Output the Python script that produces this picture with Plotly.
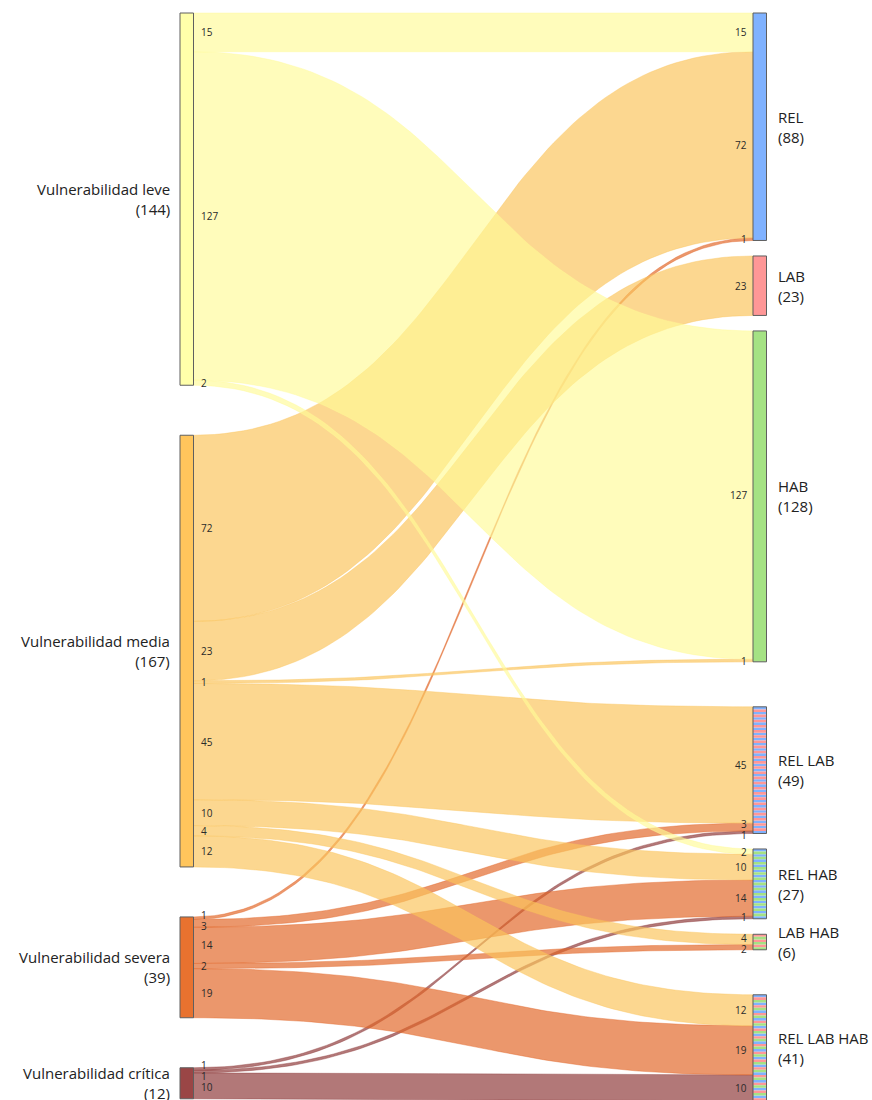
import numpy as np
import plotly.graph_objects as go

# Nodes
sources = ["Vulnerabilidad leve", "Vulnerabilidad media", "Vulnerabilidad severa", "Vulnerabilidad crítica"]
targets = ["REL", "LAB", "HAB", "REL LAB", "REL HAB", "LAB HAB", "REL LAB HAB"]

# Flows: one list per source, in target order
leve = [15, 0, 127, 0, 2, 0, 0]
media = [72, 23, 1, 45, 10, 4, 12]
severa = [1, 0, 0, 3, 14, 2, 19]
critica = [0, 0, 0, 1, 1, 0, 10]
flows = [leve, media, severa, critica]

# Colours
source_colors = ["#FFFFAA", "#FFC55C", "#E8722F", "#9A4646"]
link_colors = ["rgba(255,250,150,0.65)", "rgba(251,196,91,0.68)",
               "rgba(225,102,39,0.68)", "rgba(142,56,56,0.68)"]
base_colors = {"REL": "#80B2FF", "LAB": "#FF9797", "HAB": "#A5E284"}

# Layout constants (pixels)
W, H = 872, 1100
K = 2.585          # px per person
TOP = 13
NODE_W = 13.5
LX, RX = 180, 753
LEFT_GAP = 50
SMALL_GAP, BIG_GAP = 15.5, 45

src_tot = [sum(f) for f in flows]
tgt_tot = [sum(f[j] for f in flows) for j in range(len(targets))]

# node vertical positions
src_y = []
y = TOP
for v in src_tot:
    src_y.append(y)
    y += v * K + LEFT_GAP

tgt_y = []
y = TOP
for j, v in enumerate(tgt_tot):
    if j > 0:
        same = len(targets[j].split()) == len(targets[j - 1].split())
        y += SMALL_GAP if same else BIG_GAP
    tgt_y.append(y)
    y += v * K

fig = go.Figure()

# ribbons
t = np.linspace(0, 1, 80)
x0, x1 = LX + NODE_W, RX
xm = (x0 + x1) / 2
bx = (1 - t) ** 3 * x0 + 3 * (1 - t) ** 2 * t * xm + 3 * (1 - t) * t ** 2 * xm + t ** 3 * x1


def by(ya, yb):
    return (1 - t) ** 3 * ya + 3 * (1 - t) ** 2 * t * ya + 3 * (1 - t) * t ** 2 * yb + t ** 3 * yb


left_labels = [[] for _ in sources]
right_labels = [[] for _ in targets]
ribbons = []
for i, f in enumerate(flows):
    sy = src_y[i]
    for j, v in enumerate(f):
        if v == 0:
            continue
        h = v * K
        # at the target links are stacked in source order
        ty = tgt_y[j] + sum(flows[k][j] for k in range(i)) * K
        top = by(sy, ty)
        bot = by(sy + h, ty + h)
        ribbons.append((i, top, bot))
        left_labels[i].append((sy + h / 2, v))
        right_labels[j].append((ty + h / 2, v))
        sy += h

# later sources underneath, leve on top
for i, top, bot in reversed(ribbons):
    fig.add_trace(go.Scatter(
        x=np.concatenate([bx, bx[::-1]]), y=np.concatenate([top, bot[::-1]]),
        mode="lines", fill="toself", fillcolor=link_colors[i],
        line=dict(color=link_colors[i], width=0.6), hoverinfo="skip"))


def node(x, y0, n, colors):
    box_x = [x, x + NODE_W, x + NODE_W, x, x]
    box_y = [y0, y0, y0 + n * K, y0 + n * K, y0]
    if len(colors) == 1:
        fig.add_trace(go.Scatter(x=box_x, y=box_y, mode="lines", fill="toself",
                                 fillcolor=colors[0], line=dict(color="#5f5f5f", width=1),
                                 hoverinfo="skip"))
        return
    # one stripe per person, cycling through the component colours
    for c, col in enumerate(colors):
        xs, ys = [], []
        for u in range(c, n, len(colors)):
            a, b = y0 + u * K, y0 + (u + 1) * K
            xs += [x, x + NODE_W, x + NODE_W, x, x, None]
            ys += [a, a, b, b, a, None]
        fig.add_trace(go.Scatter(x=xs, y=ys, mode="lines", fill="toself",
                                 fillcolor=col, line=dict(width=0), hoverinfo="skip"))
    fig.add_trace(go.Scatter(x=box_x, y=box_y, mode="lines",
                             line=dict(color="#5f5f5f", width=1), hoverinfo="skip"))


for i, name in enumerate(sources):
    node(LX, src_y[i], src_tot[i], [source_colors[i]])
for j, name in enumerate(targets):
    node(RX, tgt_y[j], tgt_tot[j], [base_colors[p] for p in name.split()])


def spread(items, gap=11):
    pos = [p for p, _ in items]
    for _ in range(80):
        for k in range(len(pos) - 1):
            d = pos[k + 1] - pos[k]
            if d < gap:
                s = (gap - d) / 2
                pos[k] -= s
                pos[k + 1] += s
    return [(p, v) for p, (_, v) in zip(pos, items)]


annotations = []
val_font = dict(family="Open Sans, sans-serif", size=10, color="#2a2a2a")
for labels in left_labels:
    for p, v in spread(labels):
        annotations.append(dict(x=LX + NODE_W + 5, y=p, text=str(v), xanchor="left",
                                yanchor="middle", showarrow=False, font=val_font))
for labels in right_labels:
    for p, v in spread(labels):
        annotations.append(dict(x=RX - 4, y=p, text=str(v), xanchor="right",
                                yanchor="middle", showarrow=False, font=val_font))

name_font = dict(family="Open Sans, sans-serif", size=15, color="#222222")
for i, name in enumerate(sources):
    annotations.append(dict(x=LX - 8, y=src_y[i] + src_tot[i] * K / 2,
                            text=f"{name}<br>({src_tot[i]})", xanchor="right", yanchor="middle",
                            align="right", showarrow=False, font=name_font))
for j, name in enumerate(targets):
    annotations.append(dict(x=RX + NODE_W + 9, y=tgt_y[j] + tgt_tot[j] * K / 2,
                            text=f"{name}<br>({tgt_tot[j]})", xanchor="left", yanchor="middle",
                            align="left", showarrow=False, font=name_font))

fig.update_layout(
    width=W, height=H,
    margin=dict(l=0, r=0, t=0, b=0),
    plot_bgcolor="white", paper_bgcolor="white",
    showlegend=False, hovermode=False,
    xaxis=dict(range=[0, W], visible=False, fixedrange=True),
    yaxis=dict(range=[H, 0], visible=False, fixedrange=True),
    annotations=annotations,
)

# page has default body margin; remove it so the chart sits at the window corner
fig.write_html("out.html", config={"displayModeBar": False},
               post_script="document.body.style.margin='0';")
